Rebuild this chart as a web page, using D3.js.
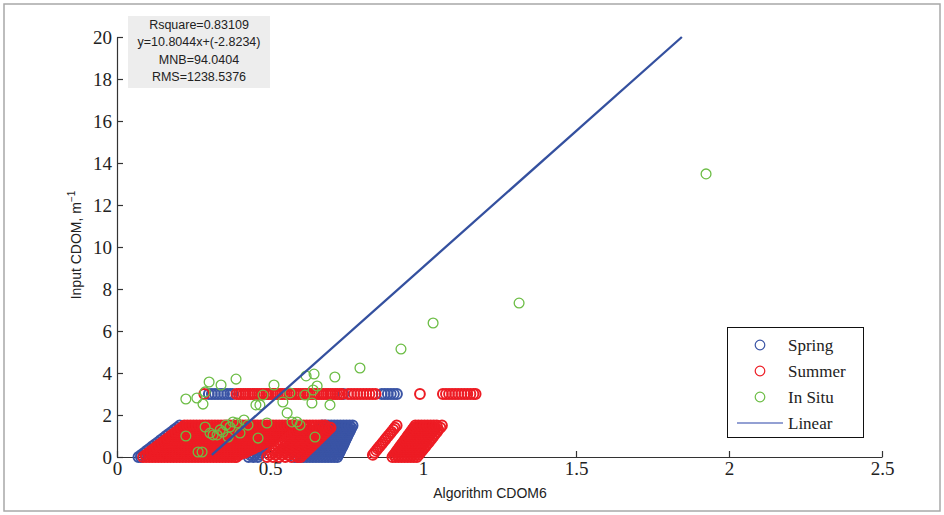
<!DOCTYPE html>
<html><head><meta charset="utf-8">
<script src="https://cdn.jsdelivr.net/npm/d3@7"></script>
<style>body{margin:0;background:#fff}svg{display:block}</style>
</head><body>
<svg id="c" width="944" height="515"></svg>
<script>
// ---------------- DATA ----------------
const xTicks = [0, 0.5, 1, 1.5, 2, 2.5];
const yTicks = [0, 2, 4, 6, 8, 10, 12, 14, 16, 18, 20];
const legendLabels = ["Spring", "Summer", "In Situ", "Linear"];
const statsLines = ["Rsquare=0.83109", "y=10.8044x+(-2.8234)", "MNB=94.0404", "RMS=1238.5376"];

// Spring (blue) : rows of [InputCDOM, [AlgorithmCDOM6 values]]
const springEdge = [
  [0,[.07,.078]],[0.1,[.079]],[0.2,[.088]],[0.3,[.097]],[0.4,[.106]],[0.5,[.115]],[0.6,[.124]],[0.7,[.133]],
  [0.8,[.142]],[0.9,[.151]],[1.0,[.16]],[1.1,[.169]],[1.2,[.178]],[1.3,[.187]],[1.4,[.196]],[1.5,[.205]]
];
const springStripe = [
  [0,[.43,.445,.46]],[0.1,[.435,.45,.465]],[0.2,[.44,.455,.47]],[0.3,[.445,.46,.475]],
  [0.4,[.45,.465,.48]],[0.5,[.455,.47,.485]],[0.6,[.46,.475,.49]],[0.7,[.465,.48,.495]]
];
const springBand = [
  [0,[.58,.59,.60,.61,.62,.63,.64,.65,.66,.67,.68,.69,.70,.71,.72]],
  [0.1,[.586,.596,.606,.616,.626,.636,.646,.656,.666,.676,.686,.696,.706,.716,.723]],
  [0.2,[.592,.602,.612,.622,.632,.642,.652,.662,.672,.682,.692,.702,.712,.722,.727]],
  [0.3,[.598,.608,.618,.628,.638,.648,.658,.668,.678,.688,.698,.708,.718,.73]],
  [0.4,[.604,.614,.624,.634,.644,.654,.664,.674,.684,.694,.704,.714,.724,.733]],
  [0.5,[.61,.62,.63,.64,.65,.66,.67,.68,.69,.70,.71,.72,.73,.737]],
  [0.6,[.616,.626,.636,.646,.656,.666,.676,.686,.696,.706,.716,.726,.736,.74]],
  [0.7,[.622,.632,.642,.652,.662,.672,.682,.692,.702,.712,.722,.732,.743]],
  [0.8,[.628,.638,.648,.658,.668,.678,.688,.698,.708,.718,.728,.738,.746]],
  [0.9,[.634,.644,.654,.664,.674,.684,.694,.704,.714,.724,.734,.744,.75]],
  [1.0,[.64,.65,.66,.67,.68,.69,.70,.71,.72,.73,.74,.753]],
  [1.1,[.646,.656,.666,.676,.686,.696,.706,.716,.726,.736,.746,.756]],
  [1.2,[.652,.662,.672,.682,.692,.702,.712,.722,.732,.742,.752,.76]],
  [1.3,[.658,.668,.678,.688,.698,.708,.718,.728,.738,.748,.758,.763]],
  [1.4,[.664,.674,.684,.694,.704,.714,.724,.734,.744,.754,.766]],
  [1.5,[.67,.68,.69,.70,.71,.72,.73,.74,.75,.76,.77]]
];
const springTop = [[3,[.30,.31,.32,.33,.34,.35,.36,.37,.378,.74,.865,.875,.885,.895,.905,.915]]];

// Summer (red)
const summerBlock = [
  [0,[.085,.095,.105,.115,.125,.135,.145,.155,.165,.175,.185,.195,.205,.215,.225,.235,.245,.255,.265,.275,.285,.295,.305,.315,.325,.335,.345,.355,.365,.375,.385,.39]],
  [0.1,[.094,.104,.114,.124,.134,.144,.154,.164,.174,.184,.194,.204,.214,.224,.234,.244,.254,.264,.274,.284,.294,.304,.314,.324,.334,.344,.354,.364,.374,.384,.394,.40]],
  [0.2,[.103,.113,.123,.133,.143,.153,.163,.173,.183,.193,.203,.213,.223,.233,.243,.253,.263,.273,.283,.293,.303,.313,.323,.333,.343,.353,.363,.373,.383,.393,.403,.413,.418]],
  [0.3,[.112,.122,.132,.142,.152,.162,.172,.182,.192,.202,.212,.222,.232,.242,.252,.262,.272,.282,.292,.302,.312,.322,.332,.342,.352,.362,.372,.382,.392,.402,.412,.422,.432]],
  [0.4,[.121,.131,.141,.151,.161,.171,.181,.191,.201,.211,.221,.231,.241,.251,.261,.271,.281,.291,.301,.311,.321,.331,.341,.351,.361,.371,.381,.391,.401,.411,.421,.431,.441,.446]],
  [0.5,[.13,.14,.15,.16,.17,.18,.19,.20,.21,.22,.23,.24,.25,.26,.27,.28,.29,.30,.31,.32,.33,.34,.35,.36,.37,.38,.39,.40,.41,.42,.43,.44,.45,.46]],
  [0.6,[.139,.149,.159,.169,.179,.189,.199,.209,.219,.229,.239,.249,.259,.269,.279,.289,.299,.309,.319,.329,.339,.349,.359,.369,.379,.389,.399,.409,.419,.429,.439,.449,.459,.469,.474]],
  [0.7,[.148,.158,.168,.178,.188,.198,.208,.218,.228,.238,.248,.258,.268,.278,.288,.298,.308,.318,.328,.338,.348,.358,.368,.378,.388,.398,.408,.418,.428,.438,.448,.458,.468,.478,.488]],
  [0.8,[.157,.167,.177,.187,.197,.207,.217,.227,.237,.247,.257,.267,.277,.287,.297,.307,.317,.327,.337,.347,.357,.367,.377,.387,.397,.407,.417,.427,.437,.447,.457,.467,.477,.487,.497,.50]],
  [0.9,[.166,.176,.186,.196,.206,.216,.226,.236,.246,.256,.266,.276,.286,.296,.306,.316,.326,.336,.346,.356,.366,.376,.386,.396,.406,.416,.426,.436,.446,.456,.466,.476,.486,.496,.506,.516]],
  [1.0,[.175,.185,.195,.205,.215,.225,.235,.245,.255,.265,.275,.285,.295,.305,.315,.325,.335,.345,.355,.365,.375,.385,.395,.405,.415,.425,.435,.445,.455,.465,.475,.485,.495,.505,.515,.525,.53]],
  [1.1,[.184,.194,.204,.214,.224,.234,.244,.254,.264,.274,.284,.294,.304,.314,.324,.334,.344,.354,.364,.374,.384,.394,.404,.414,.424,.434,.444,.454,.464,.474,.484,.494,.504,.514,.524,.534,.544]],
  [1.2,[.193,.203,.213,.223,.233,.243,.253,.263,.273,.283,.293,.303,.313,.323,.333,.343,.353,.363,.373,.383,.393,.403,.413,.423,.433,.443,.453,.463,.473,.483,.493,.503,.513,.523,.533,.543,.553,.558]],
  [1.3,[.202,.212,.222,.232,.242,.252,.262,.272,.282,.292,.302,.312,.322,.332,.342,.352,.362,.372,.382,.392,.402,.412,.422,.432,.442,.452,.462,.472,.482,.492,.502,.512,.522,.532,.542,.552,.562,.572]],
  [1.4,[.211,.221,.231,.241,.251,.261,.271,.281,.291,.301,.311,.321,.331,.341,.351,.361,.371,.381,.391,.401,.411,.421,.431,.441,.451,.461,.471,.481,.491,.501,.511,.521,.531,.541,.551,.561,.571,.581,.586]],
  [1.5,[.22,.23,.24,.25,.26,.27,.28,.29,.30,.31,.32,.33,.34,.35,.36,.37,.38,.39,.40,.41,.42,.43,.44,.45,.46,.47,.48,.49,
        .50,.51,.52,.53,.54,.55,.56,.57,.58,.59,.60,.61,.62,.63,.64,.65,.66,.67,.68]]
];
const summerStripes = [
  [0,[.49,.51,.53,.55,.57,.59,.60]],
  [0.1,[.498,.518,.538,.558,.578,.598,.607]],
  [0.2,[.505,.525,.545,.565,.585,.605,.614]],
  [0.3,[.513,.533,.553,.573,.593,.613,.621]],
  [0.4,[.52,.54,.56,.58,.60,.62,.628]],
  [0.5,[.528,.548,.568,.588,.608,.628,.635]],
  [0.6,[.535,.555,.575,.595,.615,.635,.642]],
  [0.7,[.543,.563,.583,.603,.623,.643,.649]],
  [0.8,[.55,.57,.59,.61,.63,.65,.656]],
  [0.9,[.558,.578,.598,.618,.638,.658,.663]],
  [1.0,[.565,.585,.605,.625,.645,.665,.67]],
  [1.1,[.573,.593,.613,.633,.653,.673,.677]],
  [1.2,[.58,.60,.62,.64,.66,.68,.684]],
  [1.3,[.588,.608,.628,.648,.668,.688,.691]],
  [1.4,[.595,.615,.635,.655,.675,.695,.698]]
];
const summerLine = [
  [0.1,[.836]],[0.2,[.841]],[0.3,[.847]],[0.4,[.852]],[0.5,[.858]],[0.6,[.864]],[0.7,[.869]],
  [0.8,[.875]],[0.9,[.88]],[1.0,[.886]],[1.1,[.892]],[1.2,[.897]],[1.3,[.903]],[1.4,[.908]],[1.5,[.914]]
];
const summerRight = [
  [0,[.90,.91,.92,.93,.94,.95,.96,.97,.98]],
  [0.1,[.905,.915,.925,.935,.945,.955,.965,.975,.986]],
  [0.2,[.91,.92,.93,.94,.95,.96,.97,.98,.991]],
  [0.3,[.915,.925,.935,.945,.955,.965,.975,.985,.997]],
  [0.4,[.92,.93,.94,.95,.96,.97,.98,.99,1.002]],
  [0.5,[.925,.935,.945,.955,.965,.975,.985,.995,1.008]],
  [0.6,[.93,.94,.95,.96,.97,.98,.99,1.0,1.013]],
  [0.7,[.935,.945,.955,.965,.975,.985,.995,1.005,1.019]],
  [0.8,[.94,.95,.96,.97,.98,.99,1.0,1.01,1.024]],
  [0.9,[.945,.955,.965,.975,.985,.995,1.005,1.015,1.03]],
  [1.0,[.95,.96,.97,.98,.99,1.0,1.01,1.02,1.035]],
  [1.1,[.955,.965,.975,.985,.995,1.005,1.015,1.025,1.04]],
  [1.2,[.96,.97,.98,.99,1.0,1.01,1.02,1.03,1.046]],
  [1.3,[.965,.975,.985,.995,1.005,1.015,1.025,1.035,1.05]],
  [1.4,[.97,.98,.99,1.0,1.01,1.02,1.03,1.04,1.057]],
  [1.5,[.975,.985,.995,1.005,1.015,1.025,1.035,1.045,1.062]]
];
const summerTop = [[3,[.285,.39,.398,.405,.413,.42,.428,.435,.443,.45,.458,.465,.473,.48,.488,.495,.503,.51,.518,.525,.533,
  .54,.548,.555,.563,.57,.578,.585,.593,.60,.608,.615,.623,.63,.638,.645,.653,.66,.668,.675,.683,.69,.698,.705,.713,.72,.728,.735,
  .755,.765,.775,.785,.795,.805,.815,.825,.835,.845,.99,1.065,1.075,1.085,1.095,1.105,1.115,1.125,1.135,1.145,1.155,1.165,1.172]]];

// In Situ (green) : [AlgorithmCDOM6, InputCDOM]
const inSitu = [
  [1.925,13.48],[1.314,7.33],[1.033,6.38],[0.928,5.14],[0.794,4.24],[0.712,3.81],[0.618,3.86],[0.644,3.95],
  [0.641,3.19],[0.654,3.38],[0.614,2.95],[0.637,2.57],[0.696,2.48],[0.513,3.43],[0.477,2.95],[0.454,2.48],
  [0.467,2.48],[0.542,2.62],[0.565,3.05],[0.556,2.10],[0.572,1.67],[0.598,1.52],[0.490,1.62],[0.461,0.90],
  [0.647,0.95],[0.389,3.71],[0.340,3.43],[0.301,3.57],[0.288,3.10],[0.225,2.76],[0.261,2.81],[0.281,2.52],
  [0.265,0.24],[0.278,0.24],[0.225,1.00],[0.288,1.43],[0.314,1.05],[0.346,1.19],[0.369,1.43],[0.392,1.62],
  [0.379,1.67],[0.402,1.14],[0.327,1.05],[0.304,1.14],[0.356,1.52],[0.415,1.76],[0.428,1.52],[0.363,0.95],
  [0.337,1.29],[0.588,1.67]
];

// Linear fit segment as drawn: [x, y]
const linearFit = [[0.31, 0.1], [1.846, 20]];

// ---------------- DRAW ----------------
const svg = d3.select("#c");
const serif = "'Liberation Serif','Times New Roman',serif";
const sans = "'Liberation Sans',Arial,sans-serif";
const cBlue = "#3a54a5", cRed = "#ed1c24", cGreen = "#6cbd45";

svg.append("rect").attr("x", 4).attr("y", 4).attr("width", 936).attr("height", 507)
  .attr("fill", "#fff").attr("stroke", "#a8a8a8").attr("stroke-width", 1.5);

const x = d3.scaleLinear().domain([0, 2.5]).range([117, 882]);
const y = d3.scaleLinear().domain([0, 20]).range([457, 37]);

const gx = svg.append("g").attr("transform", "translate(0,457)")
  .call(d3.axisBottom(x).tickValues(xTicks).tickSizeInner(-6).tickSizeOuter(0).tickPadding(5)
    .tickFormat(d => d3.format("")(d)));
const gy = svg.append("g").attr("transform", "translate(117,0)")
  .call(d3.axisLeft(y).tickValues(yTicks).tickSizeInner(-6).tickSizeOuter(0).tickPadding(5));
[gx, gy].forEach(g => {
  g.selectAll("path,line").attr("stroke", "#333").attr("stroke-width", 1.2);
  g.selectAll("text").attr("font-family", serif).attr("font-size", 19).attr("fill", "#222");
});

const flatten = rows => rows.flatMap(([yy, xs]) => xs.map(xx => [xx, yy]));
function drawSeries(rowsList, color) {
  const pts = rowsList.flatMap(flatten);
  svg.append("g").selectAll("circle").data(pts).join("circle")
    .attr("cx", d => x(d[0])).attr("cy", d => y(d[1])).attr("r", 4.9)
    .attr("fill", "none").attr("stroke", color).attr("stroke-width", 2);
}
drawSeries([springEdge, springStripe, springBand, springTop], cBlue);
drawSeries([summerBlock, summerStripes, summerLine, summerRight, summerTop], cRed);
svg.append("g").selectAll("circle").data(inSitu).join("circle")
  .attr("cx", d => x(d[0])).attr("cy", d => y(d[1])).attr("r", 4.9)
  .attr("fill", "none").attr("stroke", cGreen).attr("stroke-width", 1.3);

svg.append("path").datum(linearFit)
  .attr("d", d3.line().x(d => x(d[0])).y(d => y(d[1])))
  .attr("stroke", "#34509f").attr("stroke-width", 2.3).attr("fill", "none");

// axis titles
svg.append("text").attr("x", 490).attr("y", 498).attr("text-anchor", "middle")
  .attr("font-family", sans).attr("font-size", 14).attr("fill", "#222").text("Algorithm CDOM6");
const yt = svg.append("text").attr("transform", "translate(81,245) rotate(-90)").attr("text-anchor", "middle")
  .attr("font-family", sans).attr("font-size", 14).attr("fill", "#222");
yt.append("tspan").text("Input CDOM, m");
yt.append("tspan").attr("dy", -6).attr("font-size", 10).text("−1");

// stats box
svg.append("rect").attr("x", 128).attr("y", 16).attr("width", 142).attr("height", 72).attr("fill", "#ededed");
svg.append("g").selectAll("text").data(statsLines).join("text")
  .attr("x", 199).attr("y", (d, i) => 29 + i * 17.3).attr("text-anchor", "middle")
  .attr("font-family", sans).attr("font-size", 12.5).attr("fill", "#222").text(d => d);

// legend
const lg = svg.append("g");
lg.append("rect").attr("x", 727.5).attr("y", 327.5).attr("width", 136).attr("height", 110)
  .attr("fill", "#fff").attr("stroke", "#111").attr("stroke-width", 1);
const lColors = [cBlue, cRed, cGreen];
legendLabels.forEach((lab, i) => {
  const yy = 345 + i * 26;
  if (i < 3) {
    lg.append("circle").attr("cx", 760).attr("cy", yy).attr("r", 4.8)
      .attr("fill", "none").attr("stroke", lColors[i]).attr("stroke-width", 1.2);
  } else {
    lg.append("line").attr("x1", 737).attr("x2", 783).attr("y1", yy).attr("y2", yy)
      .attr("stroke", "#6f80c4").attr("stroke-width", 1.5);
  }
  lg.append("text").attr("x", 788).attr("y", yy + 6).attr("font-family", serif).attr("font-size", 17)
    .attr("fill", "#222").text(lab);
});
</script>
</body></html>
